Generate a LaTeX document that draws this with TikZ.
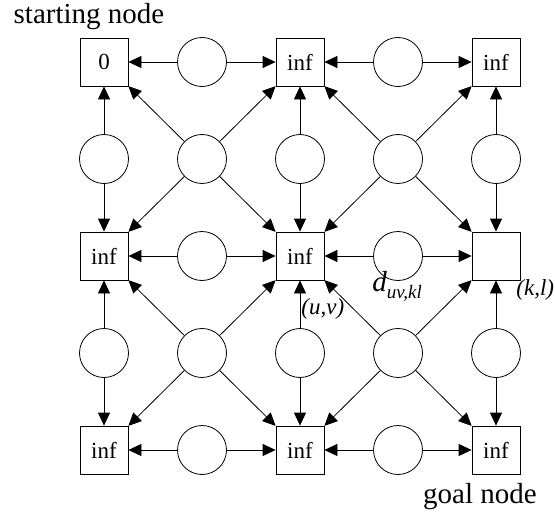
\documentclass[tikz,border=0pt]{standalone}
\usepackage{fontspec}
\setmainfont{Liberation Serif}
\usetikzlibrary{arrows.meta}

\tikzset{
  cell/.style={draw, minimum size=48pt, inner sep=0pt, font=\fontsize{23}{23}\selectfont},
  cost/.style={draw, circle, minimum size=49pt, inner sep=0pt},
  link/.style={-{Triangle[length=13pt,width=12pt]}},
  caption/.style={font=\fontsize{29}{29}\selectfont},
  coord/.style={anchor=west, inner sep=0pt, font=\fontsize{23}{23}\selectfont\itshape},
}

\begin{document}
\begin{tikzpicture}[x=1pt, y=-1pt, line width=0.8pt]
  \useasboundingbox (0,0) rectangle (555,514);
  % grid cells
  \node[cell] (s00) at (104,62)  {0};
  \node[cell] (s10) at (300,62)  {inf};
  \node[cell] (s20) at (496,62)  {inf};
  \node[cell] (s01) at (104,256) {inf};
  \node[cell] (s11) at (300,256) {inf};
  \node[cell] (s21) at (496,256) {};
  \node[cell] (s02) at (104,450) {inf};
  \node[cell] (s12) at (300,450) {inf};
  \node[cell] (s22) at (496,450) {inf};

  % horizontal and vertical cost nodes
  \foreach \i/\n in {0/1,1/2}
    \foreach \j in {0,1,2} {
      \path (s\i\j) -- (s\n\j) node[cost, midway] (h\i\j) {};
      \draw[link] (h\i\j) -- (s\i\j);
      \draw[link] (h\i\j) -- (s\n\j);
      \path (s\j\i) -- (s\j\n) node[cost, midway] (v\j\i) {};
      \draw[link] (v\j\i) -- (s\j\i);
      \draw[link] (v\j\i) -- (s\j\n);
    }

  % diagonal cost nodes
  \foreach \i/\n in {0/1,1/2}
    \foreach \j/\m in {0/1,1/2} {
      \path (s\i\j) -- (s\n\m) node[cost, midway] (c\i\j) {};
      \draw[link] (c\i\j) -- (s\i\j);
      \draw[link] (c\i\j) -- (s\n\j);
      \draw[link] (c\i\j) -- (s\i\m);
      \draw[link] (c\i\j) -- (s\n\m);
    }

  % labels
  \node[caption] (start) at (89,17) {starting node};
  \node[caption] (goal) at (480,497) {goal node};
  \node[anchor=base west, inner sep=0pt] (dist) at (372,291)
    {\fontsize{29}{29}\selectfont\itshape d\raisebox{-7pt}{\fontsize{19}{19}\selectfont uv,kl}};
  \node[coord] (uv) at (301,309) {(u,v)};
  \node[coord] (kl) at (516,290) {(k,l)};
\end{tikzpicture}
\end{document}
